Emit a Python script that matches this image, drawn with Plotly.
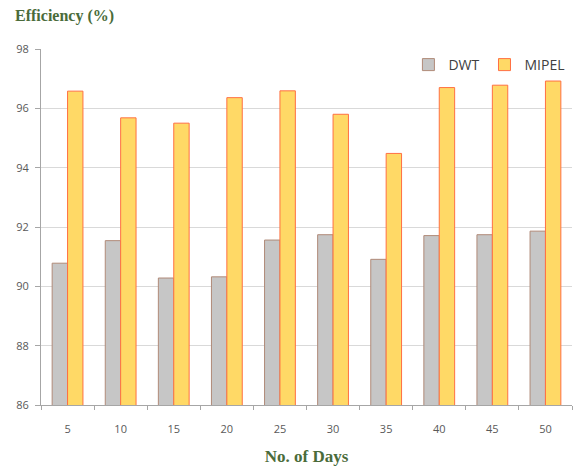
import plotly.graph_objects as go

days = ["5", "10", "15", "20", "25", "30", "35", "40", "45", "50"]
dwt = [90.78, 91.54, 90.28, 90.32, 91.56, 91.74, 90.91, 91.71, 91.74, 91.86]
mipel = [96.58, 95.68, 95.5, 96.36, 96.59, 95.8, 94.48, 96.7, 96.78, 96.92]
y_ticks = [86, 88, 90, 92, 94, 96, 98]

fig = go.Figure()
fig.add_trace(go.Bar(x=days, y=dwt, name="DWT",
                     marker=dict(color="#c6c6c6", line=dict(color="#b08a78", width=1))))
fig.add_trace(go.Bar(x=days, y=mipel, name="MIPEL",
                     marker=dict(color="#ffd966", line=dict(color="#ff7043", width=1))))

serif = "Liberation Serif, DejaVu Serif, serif"
fig.update_layout(
    width=576, height=458,
    margin=dict(l=33, r=12, t=41, b=61),
    paper_bgcolor="white", plot_bgcolor="white",
    barmode="group", bargap=0.42, bargroupgap=0,
    font=dict(family="Open Sans, Liberation Sans, sans-serif", size=11, color="#595959"),
    legend=dict(orientation="h", x=0.997, xanchor="right", y=1.0, yanchor="top",
                font=dict(size=14, color="#404040"), bgcolor="rgba(255,255,255,0)",
                itemwidth=30, tracegroupgap=0),
    annotations=[
        dict(text="<b>Efficiency (%)</b>", xref="paper", yref="paper", x=-0.052, y=1.0,
             yshift=33, xanchor="left", yanchor="middle", showarrow=False,
             font=dict(family=serif, size=16, color="#4a6b3a")),
    ],
)
fig.update_xaxes(
    automargin=False,
    showline=True, linecolor="#a6a6a6", linewidth=1,
    ticks="outside", tickson="boundaries", ticklen=4, tickcolor="#a6a6a6",
    ticklabelstandoff=14,
    showgrid=False,
    title=dict(text="<b>No. of Days</b>", standoff=20,
               font=dict(family=serif, size=17, color="#4a6b3a")),
)
fig.update_yaxes(
    automargin=False,
    range=[86, 98], tickvals=y_ticks,
    showline=True, linecolor="#a6a6a6", linewidth=1,
    ticks="outside", ticklen=5, tickcolor="#a6a6a6",
    ticklabelstandoff=4,
    showgrid=True, gridcolor="#d9d9d9", gridwidth=1, zeroline=False,
)
fig.write_html("out.html")
